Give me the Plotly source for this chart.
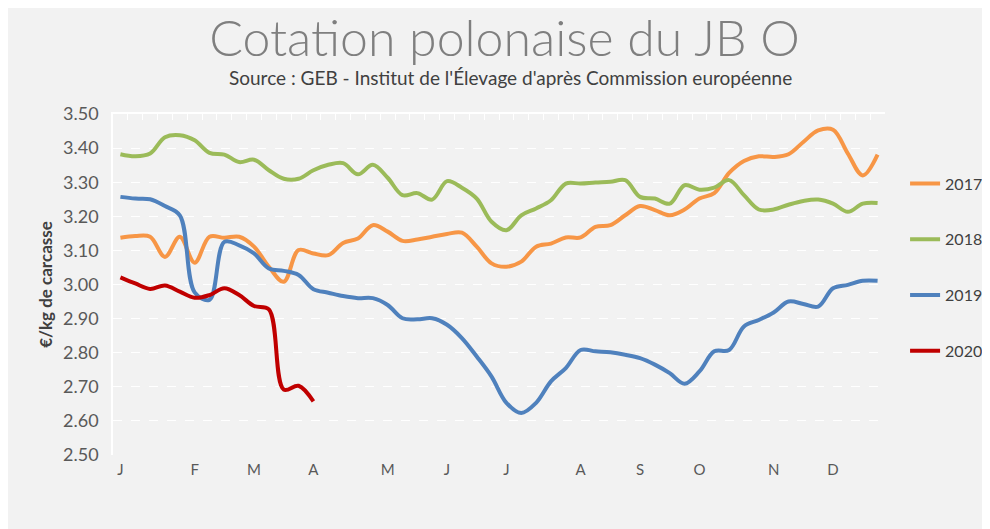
import plotly.graph_objects as go

# ---- data (weekly quotations, €/kg carcass) ----
weeks = list(range(1, 53))
month_tick_weeks = [1, 6, 10, 14, 19, 23, 27, 32, 36, 40, 45, 49]
month_labels = ["J", "F", "M", "A", "M", "J", "J", "A", "S", "O", "N", "D"]

v2017 = [3.137, 3.142, 3.140, 3.081, 3.140, 3.064, 3.140, 3.137, 3.140, 3.111,
         3.052, 3.008, 3.101, 3.091, 3.086, 3.122, 3.135, 3.174, 3.155, 3.128,
         3.132, 3.140, 3.148, 3.152, 3.111, 3.062, 3.052, 3.067, 3.111, 3.120,
         3.138, 3.138, 3.169, 3.174, 3.203, 3.230, 3.218, 3.203, 3.220, 3.252,
         3.268, 3.327, 3.362, 3.376, 3.374, 3.382, 3.418, 3.452, 3.454, 3.384,
         3.320, 3.381]
v2018 = [3.382, 3.376, 3.384, 3.432, 3.438, 3.423, 3.386, 3.381, 3.359, 3.366,
         3.335, 3.310, 3.310, 3.335, 3.351, 3.356, 3.323, 3.351, 3.313, 3.262,
         3.268, 3.249, 3.303, 3.284, 3.252, 3.184, 3.159, 3.203, 3.223, 3.247,
         3.296, 3.296, 3.299, 3.301, 3.306, 3.257, 3.252, 3.237, 3.291, 3.278,
         3.284, 3.306, 3.262, 3.220, 3.220, 3.234, 3.245, 3.249, 3.237, 3.213,
         3.237, 3.239]
v2019 = [3.257, 3.252, 3.250, 3.230, 3.203, 2.977, 2.955, 3.125, 3.115, 3.091,
         3.047, 3.040, 3.028, 2.986, 2.976, 2.966, 2.960, 2.960, 2.940, 2.901,
         2.898, 2.901, 2.882, 2.843, 2.789, 2.730, 2.653, 2.623, 2.653, 2.716,
         2.755, 2.808, 2.804, 2.801, 2.794, 2.784, 2.765, 2.740, 2.709, 2.745,
         2.804, 2.808, 2.877, 2.896, 2.918, 2.950, 2.943, 2.935, 2.989, 2.999,
         3.011, 3.011]
v2020 = [3.021, 3.003, 2.987, 2.997, 2.979, 2.961, 2.969, 2.989, 2.969, 2.937,
         2.927, 2.692, 2.703, 2.657]

series_names = ["2017", "2018", "2019", "2020"]
series_values = [v2017, v2018, v2019, v2020]
series_colors = ["#F79646", "#9BBB59", "#4F81BD", "#C00000"]

FONT = "Lato, 'Noto Sans', sans-serif"

fig = go.Figure()
for name, vals, col in zip(series_names, series_values, series_colors):
    fig.add_trace(go.Scatter(
        x=weeks[:len(vals)], y=vals, mode="lines", name=name,
        legendgroup=name,
        line=dict(color=col, width=4, shape="spline"),
    ))

# invisible helper trace so the top (tick-mark) axis is drawn
fig.add_trace(go.Scatter(x=[], y=[], xaxis="x2", showlegend=False, hoverinfo="skip"))

fig.update_layout(
    width=982, height=521,
    paper_bgcolor="#f2f2f2", plot_bgcolor="#f2f2f2",
    margin=dict(l=105, r=105, t=105.5, b=73.5, autoexpand=False),
    font=dict(family=FONT, color="#595959"),
    title=dict(
        text="Cotation polonaise du JB O",
        x=0.5056, xanchor="center", y=0.942, yanchor="middle", yref="container",
        font=dict(family=FONT, size=50, color="#7f7f7f", weight=300),
    ),
    xaxis=dict(
        range=[0.5, 52.5], tickmode="array", tickvals=month_tick_weeks,
        ticktext=month_labels, showgrid=False, zeroline=False, showline=False,
        ticks="", tickfont=dict(size=15, color="#595959"), ticklabelstandoff=4,
    ),
    xaxis2=dict(
        overlaying="x", side="top", anchor="y", range=[0.5, 52.5],
        tickmode="array", tickvals=[w + 0.5 for w in weeks[:-1]],
        ticks="inside", ticklen=6, tickcolor="white", tickwidth=1,
        showline=True, linecolor="white", linewidth=1.5,
        showticklabels=False, showgrid=False, zeroline=False,
    ),
    yaxis=dict(
        range=[2.5, 3.5], tickmode="linear", tick0=2.5, dtick=0.1,
        tickformat=".2f", showgrid=True, gridcolor="white", griddash="dash",
        gridwidth=1, zeroline=False, showline=True, linecolor="white",
        linewidth=1.5, ticks="", ticklabelstandoff=9,
        tickfont=dict(size=18, color="#595959"),
        title=dict(text="<b>€/kg de carcasse</b>", standoff=6,
                   font=dict(size=17, color="#404040")),
    ),
    legend=dict(
        x=1.026, xanchor="left", y=0.846, yanchor="top",
        bgcolor="rgba(0,0,0,0)", font=dict(size=16, color="#404040"),
        tracegroupgap=32, itemwidth=30,
    ),
    annotations=[dict(
        text="Source : GEB - Institut de l'Élevage d'après Commission européenne",
        xref="paper", yref="paper", x=0.515, y=1.107, xanchor="center",
        yanchor="middle", showarrow=False,
        font=dict(family=FONT, size=19, color="#404040"),
    )],
)

fig.write_html("out.html")
